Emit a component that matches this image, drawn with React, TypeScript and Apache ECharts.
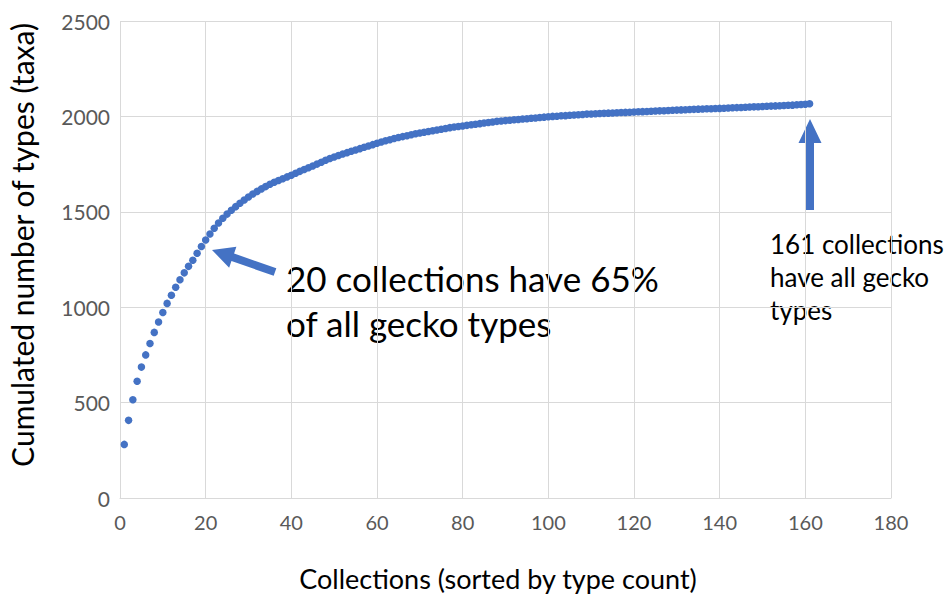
import React, { useEffect, useRef } from "react";
import * as echarts from "echarts";

// Cumulated number of types (taxa) for collections 1..161 (sorted by type count)
const cumulatedTypes: number[] = [
  281, 407, 515, 612, 686, 750, 810, 868, 922, 972,
  1020, 1063, 1105, 1144, 1180, 1214, 1246, 1283, 1318, 1352,
  1384, 1414, 1441, 1466, 1488, 1508, 1527, 1545, 1562, 1578,
  1593, 1607, 1620, 1632, 1644, 1655, 1664, 1673, 1683, 1692,
  1702, 1712, 1722, 1731, 1740, 1750, 1760, 1770, 1779, 1787,
  1795, 1803, 1810, 1817, 1824, 1831, 1838, 1845, 1852, 1859,
  1866, 1872, 1878, 1884, 1889, 1894, 1899, 1904, 1909, 1913,
  1917, 1921, 1925, 1929, 1933, 1937, 1941, 1944, 1947, 1950,
  1953, 1956, 1959, 1962, 1965, 1968, 1971, 1974, 1976, 1978,
  1980, 1982, 1984, 1986, 1988, 1990, 1992, 1994, 1996, 1998,
  2000, 2001, 2003, 2004, 2006, 2007, 2009, 2010, 2012, 2013,
  2014, 2015, 2016, 2017, 2018, 2019, 2020, 2021, 2022, 2023,
  2024, 2025, 2026, 2027, 2028, 2029, 2030, 2031, 2032, 2033,
  2034, 2035, 2036, 2037, 2038, 2039, 2040, 2040, 2041, 2042,
  2043, 2044, 2045, 2046, 2047, 2048, 2049, 2050, 2051, 2052,
  2053, 2054, 2055, 2056, 2057, 2058, 2059, 2061, 2062, 2064,
  2066,
];
const collectionIndex: number[] = cumulatedTypes.map((_, i) => i + 1);

const xTitle = "Collections (sorted by type count)";
const yTitle = "Cumulated number of types (taxa)";
const noteLeft = "20 collections have 65%\nof all gecko types";
const noteRight = "161 collections\nhave all gecko\ntypes";

const BLUE = "#4472C4";
const FONT = "Lato, 'Open Sans', sans-serif";

function arrowPoints(tip: number[], tail: number[], headLen: number, headHalf: number, shaftHalf: number) {
  const dx = tip[0] - tail[0];
  const dy = tip[1] - tail[1];
  const len = Math.hypot(dx, dy);
  const ux = dx / len, uy = dy / len;
  const nx = -uy, ny = ux;
  const bx = tip[0] - ux * headLen, by = tip[1] - uy * headLen;
  return [
    tip,
    [bx + nx * headHalf, by + ny * headHalf],
    [bx + nx * shaftHalf, by + ny * shaftHalf],
    [tail[0] + nx * shaftHalf, tail[1] + ny * shaftHalf],
    [tail[0] - nx * shaftHalf, tail[1] - ny * shaftHalf],
    [bx - nx * shaftHalf, by - ny * shaftHalf],
    [bx - nx * headHalf, by - ny * headHalf],
  ];
}

export default function App() {
  const ref = useRef<HTMLDivElement>(null);
  useEffect(() => {
    if (!ref.current) return;
    const chart = echarts.init(ref.current, null, { renderer: "svg" });
    chart.setOption({
      animation: false,
      backgroundColor: "#ffffff",
      grid: { left: 120, right: 57, top: 21, bottom: 96, containLabel: false },
      xAxis: {
        type: "value",
        min: 0,
        max: 180,
        interval: 20,
        axisLine: { show: true, lineStyle: { color: "#d9d9d9", width: 1 } },
        axisTick: { show: false },
        splitLine: { show: true, lineStyle: { color: "#d9d9d9", width: 1 } },
        axisLabel: { color: "#595959", fontFamily: FONT, fontSize: 20, margin: 14 },
      },
      yAxis: {
        type: "value",
        min: 0,
        max: 2500,
        interval: 500,
        axisLine: { show: false },
        axisTick: { show: false },
        splitLine: { show: true, lineStyle: { color: "#d9d9d9", width: 1 } },
        axisLabel: {
          color: "#595959",
          fontFamily: FONT,
          fontSize: 21,
          margin: 10,
          formatter: (v: number) => String(v),
        },
      },
      series: [
        {
          type: "scatter",
          data: collectionIndex.map((x, i) => [x, cumulatedTypes[i]]),
          symbol: "circle",
          symbolSize: 7.5,
          itemStyle: { color: BLUE, opacity: 1 },
        },
      ],
      graphic: [
        {
          type: "text",
          x: 498,
          y: 578,
          style: { text: xTitle, font: `27px ${FONT}`, fill: "#000000", align: "center", verticalAlign: "middle" },
        },
        {
          type: "text",
          x: 22,
          y: 245,
          rotation: Math.PI / 2,
          style: { text: yTitle, font: `30px ${FONT}`, fill: "#000000", align: "center", verticalAlign: "middle" },
        },
        {
          type: "polygon",
          shape: { points: arrowPoints([212, 250], [275, 272], 22, 11, 4) },
          style: { fill: BLUE },
        },
        {
          type: "polygon",
          shape: { points: arrowPoints([810, 119], [810, 210], 24, 11.5, 4) },
          style: { fill: BLUE },
        },
        {
          type: "text",
          x: 286,
          y: 255,
          style: { text: noteLeft, font: `35px ${FONT}`, lineHeight: 45, fill: "#000000", align: "left", verticalAlign: "top" },
        },
        {
          type: "text",
          x: 770,
          y: 227,
          style: { text: noteRight, font: `26px ${FONT}`, lineHeight: 33, fill: "#000000", align: "left", verticalAlign: "top" },
        },
      ],
    });
    return () => chart.dispose();
  }, []);
  return <div ref={ref} style={{ position: "absolute", left: 0, top: 0, width: 948, height: 594 }} />;
}
